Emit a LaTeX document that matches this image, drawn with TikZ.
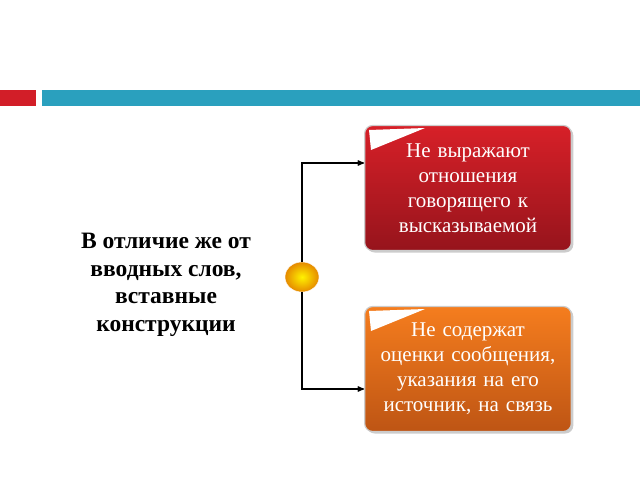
\documentclass[tikz,border=0pt]{standalone}
\usepackage{fontspec}
\setmainfont{Liberation Serif}
\usetikzlibrary{arrows,shadows,positioning,shapes}
\definecolor{barteal}{RGB}{42,160,190}
\definecolor{barred}{RGB}{210,30,40}
\definecolor{boxred}{RGB}{215,32,40}
\definecolor{boxredd}{RGB}{150,20,28}
\definecolor{boxorange}{RGB}{245,125,30}
\definecolor{boxoranged}{RGB}{190,85,20}

\begin{document}
\begin{tikzpicture}[x=1pt,y=-1pt,>=stealth',
    box/.style={rounded corners=8pt,draw=gray!40,line width=1.2pt,
      minimum width=203pt,minimum height=125pt,text width=200pt,align=center,
      text=white,font=\fontsize{21}{25}\selectfont,
      drop shadow={shadow xshift=2pt,shadow yshift=-2pt,opacity=.4}},
    link/.style={->,line width=1.3pt}]
  \useasboundingbox (0,0) rectangle (640,480);
  % top bars
  \fill[barred] (0,90) rectangle (36,106);
  \fill[barteal] (42,90) rectangle (640,106);

  \node[font=\bfseries\fontsize{23.5}{27.5}\selectfont,align=center] (topic) at (166,285)
    {В отличие же от\\вводных слов,\\вставные\\конструкции};

  \node[box,top color=boxred,bottom color=boxredd] (neg1) at (468,188)
    {Не выражают\\отношения\\говорящего к\\высказываемой};
  \node[box,top color=boxorange,bottom color=boxoranged] (neg2) at (468,369)
    {Не содержат\\оценки сообщения,\\указания на его\\источник, на связь};

  % corner flaps
  \fill[white] (369,130) -- (425,128) -- (371,150) -- cycle;
  \fill[white] (369,311) -- (425,309) -- (371,331) -- cycle;

  \node[ellipse,minimum width=34pt,minimum height=30pt,inner sep=0pt,draw=white,
    inner color=yellow!90!orange,outer color=orange!80!yellow!90!black] (dot) at (302,277) {};

  \draw[link] (dot.north) |- (neg1.west |- 0,163);
  \draw[link] (dot.south) |- (neg2.west |- 0,389);
\end{tikzpicture}
\end{document}
